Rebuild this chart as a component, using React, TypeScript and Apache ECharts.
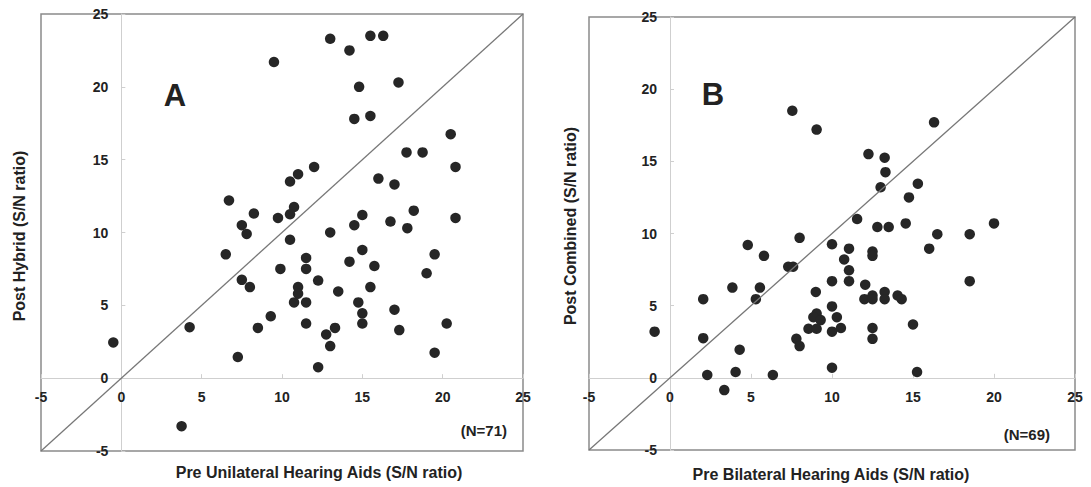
import React, { useEffect, useRef } from "react";
import * as echarts from "echarts";

// Panel A: Pre Unilateral Hearing Aids (x) vs Post Hybrid (y)
const panelAPre: number[] = [
  13.0, 14.2, 15.5, 16.3, 9.5, 14.8, 17.25, 14.5, 15.5, 20.5,
  17.75, 18.75, 20.8, 12.0, 11.0, 10.5, 16.0, 17.0, 10.75, 10.5,
  9.75, 15.0, 18.2, 20.8, 14.5, 16.75, 17.8, 13.0, 10.5, 6.7,
  8.25, 7.5, 7.8, 6.5, 7.5, 8.0, 9.9, 4.25, -0.5, 8.5,
  9.3, 7.25, 3.75, 15.0, 19.5, 11.5, 14.2, 15.75, 11.5, 19.0,
  12.25, 11.0, 11.0, 13.5, 15.5, 10.75, 11.5, 14.75, 15.0, 17.0,
  11.5, 13.3, 15.0, 20.25, 12.75, 17.3, 13.0, 19.5, 12.25,
];
const panelAPost: number[] = [
  23.3, 22.5, 23.5, 23.5, 21.7, 20.0, 20.3, 17.8, 18.0, 16.75,
  15.5, 15.5, 14.5, 14.5, 14.0, 13.5, 13.7, 13.3, 11.75, 11.25,
  11.0, 11.2, 11.5, 11.0, 10.5, 10.75, 10.3, 10.0, 9.5, 12.2,
  11.3, 10.5, 9.9, 8.5, 6.75, 6.25, 7.5, 3.5, 2.45, 3.45,
  4.25, 1.45, -3.3, 8.8, 8.5, 8.25, 8.0, 7.7, 7.5, 7.2,
  6.7, 6.25, 5.8, 5.95, 6.25, 5.2, 5.2, 5.2, 4.45, 4.7,
  3.75, 3.45, 3.75, 3.75, 3.0, 3.3, 2.2, 1.75, 0.75,
];

// Panel B: Pre Bilateral Hearing Aids (x) vs Post Combined (y)
const panelBPre: number[] = [
  7.55, 9.05, 8.0, 4.8, 16.3, 12.25, 13.25, 13.3, 13.0, 15.3,
  14.75, 11.55, 12.8, 13.5, 14.55, 20.0, 16.5, 18.5, 10.0, 11.05,
  12.5, 12.5, 16.0, 10.75, 11.05, 10.0, 11.05, 18.5, 12.05, 9.0,
  12.0, 12.5, 12.5, 13.25, 13.25, 14.05, 14.3, 10.0, 10.3, 10.0,
  10.55, 12.5, 12.5, 15.0, 10.0, 15.25, 5.8, 7.3, 7.6, 3.85,
  5.55, 5.3, 2.05, -0.95, 2.05, 4.3, 7.8, 8.0, 8.55, 9.05,
  8.85, 9.3, 9.05, 2.3, 4.05, 6.35, 3.35,
];
const panelBPost: number[] = [
  18.5, 17.2, 9.7, 9.2, 17.7, 15.5, 15.25, 14.25, 13.2, 13.45,
  12.5, 11.0, 10.45, 10.45, 10.7, 10.7, 9.95, 9.95, 9.25, 8.95,
  8.75, 8.45, 8.95, 8.2, 7.45, 6.7, 6.7, 6.7, 6.45, 5.95,
  5.45, 5.7, 5.45, 5.95, 5.45, 5.7, 5.45, 4.95, 4.2, 3.2,
  3.45, 3.45, 2.7, 3.7, 0.7, 0.4, 8.45, 7.7, 7.7, 6.25,
  6.25, 5.45, 5.45, 3.2, 2.75, 1.95, 2.7, 2.2, 3.4, 4.45,
  4.2, 4.0, 3.4, 0.2, 0.4, 0.2, -0.85,
];

const axisMin = -5;
const axisMax = 25;
const axisStep = 5;
const identityLine: number[][] = [[axisMin, axisMin], [axisMax, axisMax]];

const panelLabels = ["A", "B"];
const countLabels = ["(N=71)", "(N=69)"];
const xNames = ["Pre Unilateral Hearing Aids (S/N ratio)", "Pre Bilateral Hearing Aids (S/N ratio)"];
const yNames = ["Post Hybrid (S/N ratio)", "Post Combined (S/N ratio)"];

const FONT = "Arial, 'Liberation Sans', Helvetica, sans-serif";

export default function App() {
  const ref = useRef<HTMLDivElement>(null);
  useEffect(() => {
    if (!ref.current) return;
    const chart = echarts.init(ref.current, undefined, { renderer: "svg" });

    const grids = [
      { left: 41, top: 14, width: 482, height: 437 },
      { left: 589, top: 17, width: 486, height: 433 },
    ];
    // distance (px) from grid edge to the zero line, so that axes sit on zero
    const zeroOffX = (g: { height: number }) => -(g.height * (0 - axisMin)) / (axisMax - axisMin);
    const zeroOffY = (g: { width: number }) => -(g.width * (0 - axisMin)) / (axisMax - axisMin);

    const mkX = (gi: number) => ({
      gridIndex: gi,
      type: "value",
      position: "bottom",
      offset: zeroOffX(grids[gi]),
      min: axisMin,
      max: axisMax,
      interval: axisStep,
      axisLine: { onZero: false, lineStyle: { color: "#cfcfcf", width: 1 } },
      axisTick: { inside: true, length: 4, lineStyle: { color: "#cfcfcf" } },
      axisLabel: { color: "#222", fontWeight: "bold", fontSize: 14, fontFamily: FONT, margin: 12 },
      splitLine: { show: false },
    });
    const mkY = (gi: number) => ({
      gridIndex: gi,
      type: "value",
      position: "left",
      offset: zeroOffY(grids[gi]),
      min: axisMin,
      max: axisMax,
      interval: axisStep,
      axisLine: { onZero: false, lineStyle: { color: "#cfcfcf", width: 1 } },
      axisTick: { inside: true, length: 4, lineStyle: { color: "#cfcfcf" } },
      axisLabel: { color: "#222", fontWeight: "bold", fontSize: 14, fontFamily: FONT, margin: 13 },
      splitLine: { show: false },
    });

    const zip = (a: number[], b: number[]) => a.map((v, i) => [v, b[i]]);

    const textEl = (text: string, x: number, y: number, size: number, rotation = 0, align = "center") => ({
      type: "text",
      x,
      y,
      rotation,
      style: {
        text,
        fill: "#222",
        font: `bold ${size}px ${FONT}`,
        align,
        verticalAlign: "middle",
      },
    });

    chart.setOption({
      animation: false,
      backgroundColor: "#ffffff",
      grid: grids.map((g) => ({
        ...g,
        show: true,
        borderColor: "#8a8a8a",
        borderWidth: 1.5,
        containLabel: false,
      })),
      xAxis: [mkX(0), mkX(1)],
      yAxis: [mkY(0), mkY(1)],
      series: [
        {
          type: "line",
          xAxisIndex: 0,
          yAxisIndex: 0,
          data: identityLine,
          symbol: "none",
          lineStyle: { color: "#777", width: 1.3 },
          silent: true,
        },
        {
          type: "line",
          xAxisIndex: 1,
          yAxisIndex: 1,
          data: identityLine,
          symbol: "none",
          lineStyle: { color: "#777", width: 1.3 },
          silent: true,
        },
        {
          type: "scatter",
          xAxisIndex: 0,
          yAxisIndex: 0,
          data: zip(panelAPre, panelAPost),
          symbolSize: 10.5,
          itemStyle: { color: "#262626", opacity: 1 },
        },
        {
          type: "scatter",
          xAxisIndex: 1,
          yAxisIndex: 1,
          data: zip(panelBPre, panelBPost),
          symbolSize: 10.5,
          itemStyle: { color: "#262626", opacity: 1 },
        },
      ],
      graphic: [
        textEl(panelLabels[0], 175, 95, 31),
        textEl(panelLabels[1], 713, 94, 31),
        textEl(countLabels[0], 507, 430, 15, 0, "right"),
        textEl(countLabels[1], 1050, 434, 15, 0, "right"),
        textEl(xNames[0], 319, 472, 16),
        textEl(xNames[1], 831, 474, 16),
        textEl(yNames[0], 19, 236, 16, Math.PI / 2),
        textEl(yNames[1], 570, 226, 16, Math.PI / 2),
      ],
    });
    return () => chart.dispose();
  }, []);

  return (
    <div
      ref={ref}
      style={{ position: "absolute", left: 0, top: 0, width: 1091, height: 487, background: "#fff" }}
    />
  );
}
